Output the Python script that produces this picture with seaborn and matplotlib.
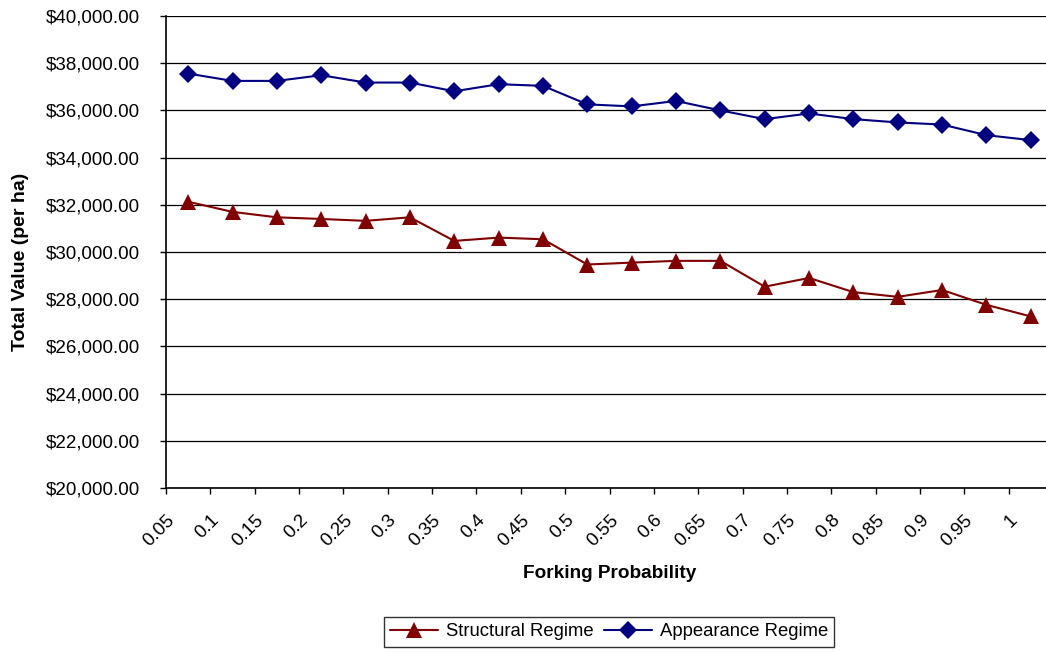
import pandas as pd
import matplotlib
matplotlib.use("Agg")
import matplotlib.pyplot as plt
import matplotlib.transforms as mtransforms
from matplotlib.ticker import FuncFormatter, FixedLocator
import seaborn as sns

# values
probabilities = ['0.05', '0.1', '0.15', '0.2', '0.25', '0.3', '0.35', '0.4', '0.45', '0.5',
                 '0.55', '0.6', '0.65', '0.7', '0.75', '0.8', '0.85', '0.9', '0.95', '1']
structural = [32130, 31700, 31470, 31400, 31320, 31470, 30470, 30610, 30540, 29470,
              29550, 29625, 29625, 28530, 28900, 28300, 28100, 28390, 27760, 27270]
appearance = [37560, 37250, 37250, 37490, 37180, 37180, 36810, 37110, 37040, 36255,
              36170, 36400, 36000, 35630, 35870, 35630, 35490, 35400, 34950, 34740]
series_names = ['Structural Regime', 'Appearance Regime']

df = pd.DataFrame({
    'Forking Probability': probabilities * 2,
    'Total Value': structural + appearance,
    'Series': [series_names[0]] * len(probabilities) + [series_names[1]] * len(probabilities),
})

sns.set_style('white')
plt.rcParams['font.family'] = ['Liberation Sans', 'DejaVu Sans']
plt.rcParams['text.color'] = 'black'
plt.rcParams['xtick.color'] = 'black'
plt.rcParams['ytick.color'] = 'black'
plt.rcParams['axes.labelcolor'] = 'black'

fig = plt.figure(figsize=(10.46, 6.52), dpi=100)
ax = fig.add_axes([166 / 1046, 1 - 488 / 652, (1053 - 166) / 1046, (488 - 16) / 652])

sns.lineplot(data=df, x='Forking Probability', y='Total Value', hue='Series', style='Series',
             palette={'Structural Regime': '#800000', 'Appearance Regime': '#000080'},
             markers={'Structural Regime': '^', 'Appearance Regime': 'D'},
             dashes=False, markersize=9, markeredgewidth=0, linewidth=1.5, ax=ax,
             sort=False, clip_on=False)

# triangles read a bit smaller than diamonds at the same size
for line in ax.lines:
    if line.get_marker() == '^':
        line.set_markersize(11)

n = len(probabilities)
ax.set_xlim(-0.5, n - 0.5)
ax.set_ylim(20000, 40000)
ax.set_yticks(range(20000, 40001, 2000))
ax.yaxis.set_major_formatter(FuncFormatter(lambda v, p: '${:,.2f}'.format(v)))
ax.grid(axis='y', color='black', linewidth=0.9)
ax.set_axisbelow(True)

for side in ['top', 'right']:
    ax.spines[side].set_visible(False)
for side in ['left', 'bottom']:
    ax.spines[side].set_color('black')
    ax.spines[side].set_linewidth(1.2)

# category boundaries as tick marks, labels at category centres
ax.set_xticks(range(n))
ax.set_xticklabels(probabilities, rotation=45, ha='right', fontsize=13.5)
ax.xaxis.set_minor_locator(FixedLocator([i - 0.5 for i in range(n + 1)]))
ax.tick_params(axis='x', which='major', length=0, pad=17)
ax.tick_params(axis='x', which='minor', length=4, width=1, color='black', direction='out', bottom=True)
ax.tick_params(axis='y', which='major', length=4, width=1, color='black', direction='out', left=True,
               pad=15, labelsize=13.5)
shift = mtransforms.ScaledTranslation(-10 / 100, 0, fig.dpi_scale_trans)
for lbl in ax.get_xticklabels():
    lbl.set_transform(lbl.get_transform() + shift)

ax.set_xlabel('Forking Probability', fontsize=13.7, fontweight='bold')
ax.set_ylabel('Total Value (per ha)', fontsize=14, fontweight='bold')
ax.yaxis.set_label_coords(-(166 - 29) / 887, 0.48)
ax.xaxis.set_label_coords((610 - 166) / 887, -(565 - 488) / 472)

ax.legend(title=None, loc='center', bbox_to_anchor=(609 / 1046, 1 - 632 / 652),
          bbox_transform=fig.transFigure, ncol=2, frameon=True, fancybox=False,
          edgecolor='black', fontsize=13.3, handlelength=2.6, borderpad=0.35,
          columnspacing=0.6, handletextpad=0.4)
ax.get_legend().get_frame().set_linewidth(1)

fig.savefig('out.png', dpi=100)
